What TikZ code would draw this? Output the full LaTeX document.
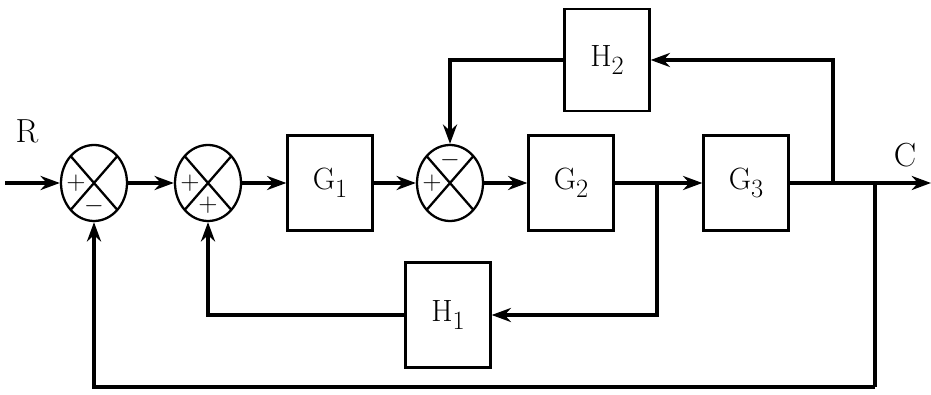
\documentclass[tikz,border=0pt]{standalone}
\usetikzlibrary{arrows.meta,positioning,calc,shapes.geometric}

\newcommand{\blkname}[2]{#1\raisebox{-0.6ex}{\fontsize{15}{16}\selectfont#2}}

\begin{document}
\begin{tikzpicture}[
  block/.style={draw, line width=1.3pt, minimum width=1.7cm,
                minimum height=1.9cm, inner sep=0pt,
                font=\fontsize{17.5}{19}\selectfont},
  sumj/.style={draw, ellipse, line width=1.3pt, inner sep=0pt,
               minimum width=1.32cm, minimum height=1.52cm,
               path picture={
                 \draw[line width=1.3pt]
                   (path picture bounding box.south west) --
                   (path picture bounding box.north east)
                   (path picture bounding box.north west) --
                   (path picture bounding box.south east);}},
  sign/.style={inner sep=0pt, font=\fontsize{15}{16}\selectfont},
  lbl/.style={font=\fontsize{19}{20}\selectfont},
  sig/.style={line width=2.5pt, -{Stealth[length=11pt,width=8pt]}},
  wire/.style={line width=2.5pt}
]
  \useasboundingbox (0,0) rectangle (18.62,7.88);

  % summing points
  \node[sumj] (s1) at (1.88,4.22) {};
  \node[sumj] (s2) at (4.16,4.22) {};
  \node[sumj] (s3) at (9.0,4.22) {};
  \node[sign] (s1l) at ($(s1)+(-0.36,0)$) {$+$};
  \node[sign] (s1b) at ($(s1)+(0,-0.46)$) {$-$};
  \node[sign] (s2l) at ($(s2)+(-0.36,0)$) {$+$};
  \node[sign] (s2b) at ($(s2)+(0,-0.44)$) {$+$};
  \node[sign] (s3l) at ($(s3)+(-0.36,0)$) {$+$};
  \node[sign] (s3t) at ($(s3)+(0,0.46)$) {$-$};

  % blocks
  \node[block] (g1) at (6.6,4.22) {\blkname{G}{1}};
  \node[block] (g2) at (11.42,4.22) {\blkname{G}{2}};
  \node[block] (g3) at (14.92,4.22) {\blkname{G}{3}};
  \node[block, minimum height=2.05cm] (h2) at (12.14,6.68) {\blkname{H}{2}};
  \node[block, minimum height=2.1cm] (h1) at (8.96,1.58) {\blkname{H}{1}};

  \node[lbl] (rlab) at (0.54,5.26) {R};
  \node[lbl] (clab) at (18.1,4.78) {C};

  \coordinate (in)  at (0.1,4.22);
  \coordinate (b1)  at (13.14,4.22);
  \coordinate (t2)  at (16.66,4.22);
  \coordinate (t3)  at (17.5,4.22);
  \coordinate (bot) at (17.5,0.14);
  \coordinate (out) at (18.62,4.22);

  % forward path
  \draw[sig] (in) -- (s1);
  \draw[sig] (s1) -- (s2);
  \draw[sig] (s2) -- (g1);
  \draw[sig] (g1) -- (s3);
  \draw[sig] (s3) -- (g2);
  \draw[sig] (g2) -- (g3);
  \draw[sig] (g3) -- (out);

  % feedback paths
  \draw[sig] (t2) |- (h2);
  \draw[sig] (h2) -| (s3);
  \draw[sig] (b1) |- (h1);
  \draw[sig] (h1) -| (s2);
  \draw[wire] (t3) -- (bot);
  \draw[sig] (bot) -| (s1);
\end{tikzpicture}
\end{document}
